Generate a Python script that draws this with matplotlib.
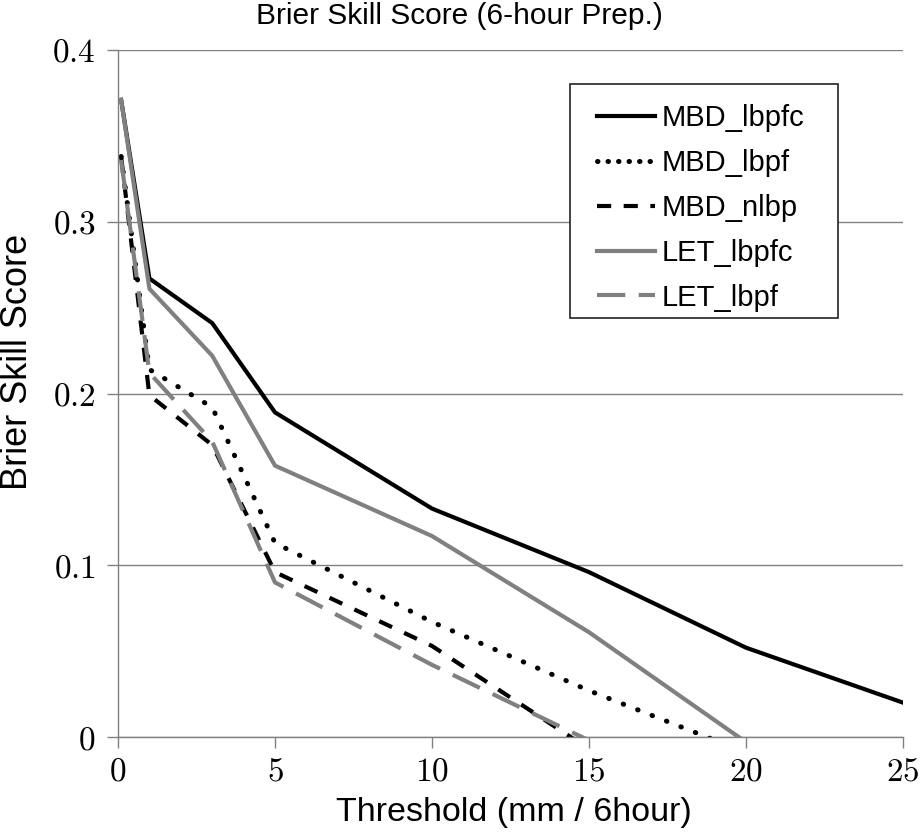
import numpy as np
import matplotlib
matplotlib.use("Agg")
import matplotlib.pyplot as plt
from matplotlib.ticker import FixedLocator, FuncFormatter
from matplotlib.lines import Line2D
from matplotlib.patches import Rectangle

plt.rcParams['mathtext.fontset'] = 'cm'
plt.rcParams['font.family'] = ['Liberation Sans', 'DejaVu Sans']

thresholds = [0.1, 1, 3, 5, 10, 15, 20, 25]
series_names = ["MBD_lbpfc", "MBD_lbpf", "MBD_nlbp", "LET_lbpfc", "LET_lbpf"]
mbd_lbpfc = [0.371, 0.267, 0.241, 0.189, 0.133, 0.096, 0.052, 0.020]
mbd_lbpf = [0.338, 0.214, 0.192, 0.113, 0.067, 0.027, -0.009, np.nan]
mbd_nlbp = [0.338, 0.199, 0.170, 0.096, 0.053, -0.007, np.nan, np.nan]
let_lbpfc = [0.371, 0.261, 0.222, 0.158, 0.117, 0.061, -0.003, np.nan]
let_lbpf = [0.336, 0.212, 0.172, 0.090, 0.042, -0.002, np.nan, np.nan]
x_ticks = [0, 5, 10, 15, 20, 25]
y_ticks = [0, 0.1, 0.2, 0.3, 0.4]

GRAY = '#808080'
fig = plt.figure(figsize=(9.22, 8.34), dpi=100)
ax = fig.add_axes([118/922, 1-737/834, (903-118)/922, (737-50)/834])

lw = 3.0
styles = [
    dict(color='black', linestyle='-', lw=lw),
    dict(color='black', linestyle=(0, (0.1, 3.0)), lw=3.6, dash_capstyle='round'),
    dict(color='black', linestyle=(0, (3.4, 3.2)), lw=lw),
    dict(color=GRAY, linestyle='-', lw=lw),
    dict(color=GRAY, linestyle=(0, (7.2, 3.4)), lw=lw),
]
legend_styles = [
    dict(color='black', linestyle='-', lw=lw),
    dict(color='black', linestyle=(0, (0.1, 2.0)), lw=3.6, dash_capstyle='round'),
    dict(color='black', linestyle=(0, (3.4, 3.0)), lw=lw),
    dict(color=GRAY, linestyle='-', lw=lw),
    dict(color=GRAY, linestyle=(0, (6.8, 3.2)), lw=lw),
]
data = [mbd_lbpfc, mbd_lbpf, mbd_nlbp, let_lbpfc, let_lbpf]
for name, vals, st in zip(series_names, data, styles):
    ax.plot(thresholds, vals, label=name, **st)

ax.set_xlim(0, 25)
ax.set_ylim(0, 0.4)
ax.xaxis.set_major_locator(FixedLocator(x_ticks))
ax.yaxis.set_major_locator(FixedLocator(y_ticks))
ax.xaxis.set_major_formatter(FuncFormatter(lambda v, p: r'$%g$' % v))
ax.yaxis.set_major_formatter(FuncFormatter(lambda v, p: r'$%g$' % v))
ax.tick_params(axis='both', direction='out', length=8, width=1, color=GRAY,
               labelsize=24, pad=6)
ax.tick_params(axis='y', pad=8)
ax.grid(axis='y', color=GRAY, lw=1)
ax.set_axisbelow(True)
for s in ['top', 'right']:
    ax.spines[s].set_visible(False)
for s in ['left', 'bottom']:
    ax.spines[s].set_color(GRAY)
    ax.spines[s].set_linewidth(1)

fig.text(459/922, 1-16/834, "Brier Skill Score (6-hour Prep.)", ha='center', va='center', fontsize=21.5)
fig.text(514/922, 1-812/834, "Threshold (mm / 6hour)", ha='center', va='center', fontsize=24.5)
fig.text(18/922, 1-362/834, "Brier Skill Score", ha='center', va='center', fontsize=26, rotation=90)

handles = [Line2D([], [], **st) for st in legend_styles]
leg = fig.legend(handles, series_names, loc='upper left', bbox_to_anchor=(597/922, 1-104/834),
                 bbox_transform=fig.transFigure, fontsize=21, frameon=False,
                 handlelength=2.0, handletextpad=0.2, labelspacing=0.58, borderpad=0.0,
                 borderaxespad=0)
fig.add_artist(Rectangle((570/922, 1-318/834), (838-570)/922, (318-84)/834,
                         transform=fig.transFigure, fill=True, facecolor='white',
                         edgecolor='#222222', lw=1.2, zorder=leg.get_zorder()-0.1))

fig.savefig("out.png", dpi=100)
